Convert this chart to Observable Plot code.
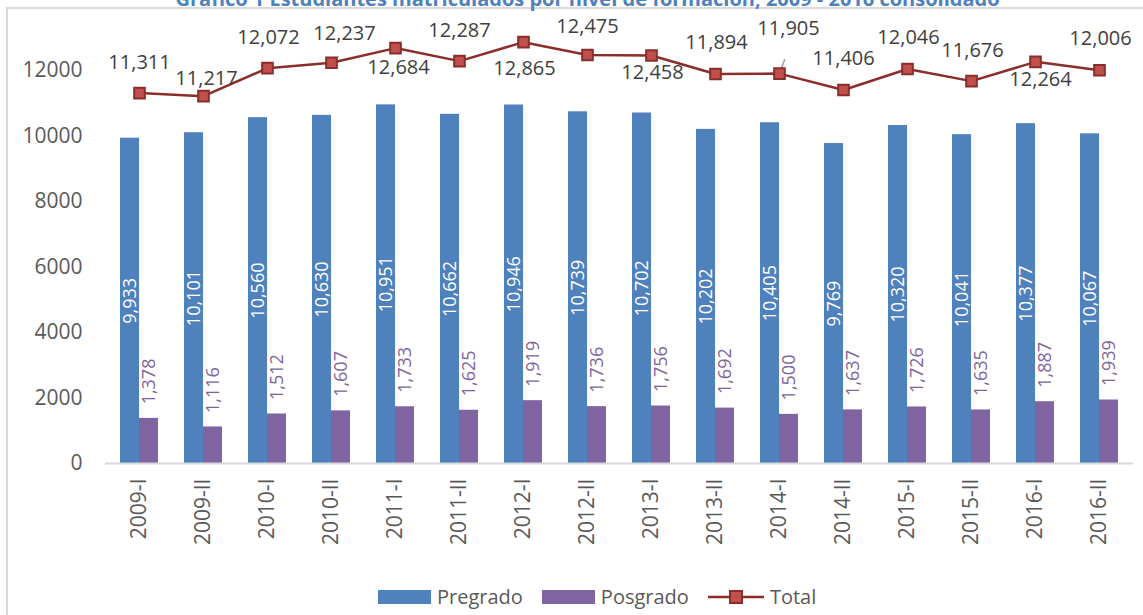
<!DOCTYPE html>
<html>
<head>
<meta charset="utf-8">
<script src="https://cdn.jsdelivr.net/npm/d3@7"></script>
<script src="https://cdn.jsdelivr.net/npm/@observablehq/plot@0.6"></script>
<style>
  body { margin: 0; width: 1143px; height: 615px; overflow: hidden; position: relative; background: #fff; font-family: "Open Sans", sans-serif; }
  #frame { position: absolute; left: 6px; top: 7px; width: 1150px; height: 620px; border-left: 2px solid #D9D9D9; border-top: 2px solid #D9D9D9; }
  #title { position: absolute; top: -15px; left: 16px; width: 1143px; text-align: center; font-weight: bold; font-size: 20px; color: #4F81BD; white-space: nowrap; }
  #chart { position: absolute; left: 0; top: 0; }
  #legend { position: absolute; top: 583px; left: 378px; display: flex; align-items: center; font-size: 20px; color: #595959; }
  .sw { width: 53px; height: 14px; margin-right: 6px; }
  .item { display: flex; align-items: center; margin-right: 19px; }
</style>
</head>
<body>
<div id="frame"></div>
<div id="title">Gráfico 1 Estudiantes matriculados por nivel de formación, 2009 - 2016 consolidado</div>
<div id="chart"></div>
<div id="legend">
  <div class="item"><div class="sw" style="background:#4F81BD"></div><span>Pregrado</span></div>
  <div class="item"><div class="sw" style="background:#8064A2"></div><span>Posgrado</span></div>
  <div class="item"><svg width="56" height="16" style="margin-right:6px"><line x1="0" y1="8" x2="56" y2="8" stroke="#8B2D2B" stroke-width="2.5"/><rect x="22" y="2" width="12" height="12" fill="#C0504D" stroke="#8B2D2B" stroke-width="2"/></svg><span>Total</span></div>
</div>
<script>
const periods = ["2009-I","2009-II","2010-I","2010-II","2011-I","2011-II","2012-I","2012-II","2013-I","2013-II","2014-I","2014-II","2015-I","2015-II","2016-I","2016-II"];
const pregrado = [9933,10101,10560,10630,10951,10662,10946,10739,10702,10202,10405,9769,10320,10041,10377,10067];
const posgrado = [1378,1116,1512,1607,1733,1625,1919,1736,1756,1692,1500,1637,1726,1635,1887,1939];
const total = [11311,11217,12072,12237,12684,12287,12865,12475,12458,11894,11905,11406,12046,11676,12264,12006];
const yTicks = [0,2000,4000,6000,8000,10000,12000];

// label placement of the Total data labels (pixel offsets from the point)
const totalLabelOffsets = [[0,-30],[3,-18],[1,-31],[13,-29],[3,19],[0,-31],[1,26],[0,-28],[1,17],[1,-31],[9,-45],[0,-31],[1,-31],[1,-31],[5,18],[1,-32]];
// leader lines for moved labels
const leaders = [{period:"2010-II", total:12237, angle:47, len:16}, {period:"2014-I", total:11905, angle:20, len:26}];

const data = periods.map((p,i) => ({period:p, pregrado:pregrado[i], posgrado:posgrado[i], total:total[i]}));
const fmt = d3.format(",");

const W = 1143, H = 570, mL = 105, mR = 10, mT = 4.5, mB = 107;
const pIn = 0.41;
const step = (W - mL - mR) / periods.length;
const bw = step * (1 - pIn);

const chart = Plot.plot({
  width: W, height: H,
  marginLeft: mL, marginRight: mR, marginTop: mT, marginBottom: mB,
  style: {fontFamily: "'Open Sans', sans-serif", color: "#595959", background: "transparent", overflow: "visible"},
  x: {domain: periods, paddingInner: pIn, paddingOuter: pIn/2, label: null},
  y: {domain: [0,14000], label: null},
  marks: [
    Plot.axisY({ticks: yTicks, tickSize: 0, tickPadding: 23, fontSize: 21, tickFormat: d => String(d), label: null}),
    Plot.axisX({tickSize: 0, tickPadding: 15, tickRotate: -90, fontSize: 21, label: null}),
    Plot.barY(data, {x: "period", y: "pregrado", fill: "#4F81BD", insetRight: bw/2}),
    Plot.barY(data, {x: "period", y: "posgrado", fill: "#8064A2", insetLeft: bw/2}),
    Plot.ruleY([0], {stroke: "#D9D9D9", strokeWidth: 2}),
    Plot.text(data, {x: "period", y: d => d.pregrado / 2, text: d => fmt(d.pregrado), rotate: -90, fill: "white", fontSize: 18, dx: -bw/4}),
    Plot.text(data, {x: "period", y: "posgrado", text: d => fmt(d.posgrado), rotate: -90, textAnchor: "start", fill: "#8064A2", fontSize: 18, dx: bw/4, dy: -14}),
    Plot.line(data, {x: "period", y: "total", stroke: "#8B2D2B", strokeWidth: 2.5}),
    Plot.vector(leaders, {x: "period", y: "total", rotate: "angle", length: "len", anchor: "start", shape: "spike", r: 0.3, stroke: "#A6A6A6", strokeWidth: 1.5, fill: "none"}),
    Plot.dot(data, {x: "period", y: "total", symbol: "square", r: 6, fill: "#C0504D", stroke: "#8B2D2B", strokeWidth: 2}),
    ...data.map((d,i) => Plot.text([d], {x: "period", y: "total", text: d => fmt(d.total), fontSize: 20, fill: "#404040", dx: totalLabelOffsets[i][0], dy: totalLabelOffsets[i][1]}))
  ]
});
document.getElementById("chart").append(chart);
</script>
</body>
</html>
